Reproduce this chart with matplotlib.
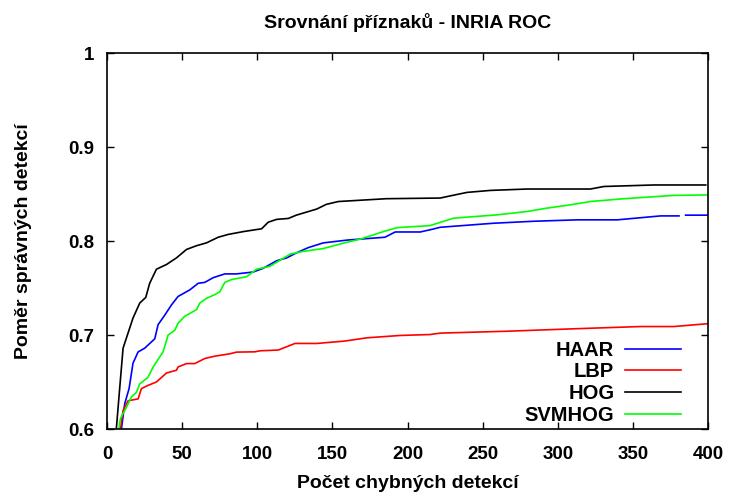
import numpy as np
import matplotlib
matplotlib.use("Agg")
import matplotlib.pyplot as plt

# (false detections -> detection rate)
haar_x = [9.6, 11.8, 14.7, 17.3, 20.7, 25.1, 31.8, 34, 38.4, 42.9, 47.3, 55.1, 60.7, 65.1,
          70.7, 78.4, 86.2, 97.3, 104, 112.9, 119.6, 126.2, 134, 144, 160, 185, 191.8,
          208.5, 217.3, 221.8, 257.3, 284, 313, 339.6, 368.5, 380.7, 383, 385.1, 400]
haar_y = [0.6, 0.627, 0.643, 0.670, 0.682, 0.686, 0.696, 0.711, 0.721, 0.732, 0.741, 0.748,
          0.755, 0.756, 0.761, 0.765, 0.765, 0.767, 0.771, 0.779, 0.782, 0.7875, 0.793,
          0.798, 0.801, 0.804, 0.8096, 0.8096, 0.8128, 0.8146, 0.8189, 0.821, 0.8225,
          0.8225, 0.8267, 0.8267, np.nan, 0.8275, 0.8275]

lbp_x = [8.9, 10.7, 14, 20.7, 22.9, 27.3, 32.9, 39.6, 46.2, 47.3, 52.9, 58.4, 65.1, 71.8,
         81.8, 86.2, 98.4, 101.8, 114, 125.1, 139.6, 158, 173, 195, 215, 221.8, 266, 310.7,
         355, 377.3, 399.6]
lbp_y = [0.6, 0.6196, 0.630, 0.632, 0.643, 0.6464, 0.650, 0.6596, 0.6625, 0.666, 0.6696,
         0.6696, 0.675, 0.6775, 0.680, 0.6818, 0.6821, 0.6832, 0.684, 0.691, 0.691, 0.6935,
         0.697, 0.6995, 0.7005, 0.702, 0.704, 0.7066, 0.709, 0.709, 0.712]

hog_x = [6.2, 8.9, 10.7, 14, 17.3, 21.8, 25.8, 28.4, 32.9, 39.6, 46.2, 52.9, 59.6, 66.2,
         74, 80.7, 90.7, 102.9, 107.3, 112.9, 120.7, 126, 139.6, 146, 154, 186, 221.8,
         228.5, 239.6, 255, 279.6, 321.8, 330.7, 364, 398.5]
hog_y = [0.6, 0.652, 0.686, 0.702, 0.718, 0.734, 0.740, 0.755, 0.770, 0.775, 0.782, 0.791,
         0.795, 0.798, 0.804, 0.807, 0.810, 0.813, 0.820, 0.823, 0.824, 0.8275, 0.834,
         0.839, 0.842, 0.845, 0.8457, 0.848, 0.8517, 0.8538, 0.8553, 0.8553, 0.858,
         0.8596, 0.8596]

svmhog_x = [8, 8.9, 12.9, 16.2, 19.6, 21.8, 27.3, 30.7, 37.3, 40.7, 45.1, 47.3, 51.8, 59.6,
            61.8, 66.2, 71.8, 75.1, 78.4, 82.9, 92.9, 99.6, 108.4, 121.8, 130.7, 144, 158,
            168.5, 184, 193, 215, 230.7, 259.6, 279.6, 293, 308.5, 321.8, 344, 377.3, 399]
svmhog_y = [0.6, 0.611, 0.623, 0.634, 0.639, 0.648, 0.655, 0.666, 0.682, 0.700, 0.705,
            0.7125, 0.720, 0.727, 0.734, 0.739, 0.743, 0.746, 0.756, 0.759, 0.762, 0.770,
            0.773, 0.786, 0.789, 0.792, 0.798, 0.802, 0.810, 0.8142, 0.8164, 0.8243,
            0.8278, 0.8314, 0.835, 0.8385, 0.842, 0.845, 0.8485, 0.849]

plt.rcParams['font.family'] = ['Liberation Sans', 'DejaVu Sans']
plt.rcParams['font.weight'] = 'bold'

fig = plt.figure(figsize=(7.31, 4.92), dpi=100)
ax = fig.add_axes([107 / 731, 1 - 429 / 492, 601 / 731, 376 / 492])

ax.plot(haar_x, haar_y, color="#0000ff", lw=1.2, label="HAAR")
ax.plot(lbp_x, lbp_y, color="#ff0000", lw=1.2, label="LBP")
ax.plot(hog_x, hog_y, color="black", lw=1.2, label="HOG")
ax.plot(svmhog_x, svmhog_y, color="#00ff00", lw=1.2, label="SVMHOG")

ax.set_xlim(0, 400)
ax.set_ylim(0.6, 1)
ax.set_xticks(range(0, 401, 50))
ax.set_yticks([0.6, 0.7, 0.8, 0.9, 1.0])
ax.set_yticklabels(["0.6", "0.7", "0.8", "0.9", "1"])
ax.tick_params(direction="in", top=True, right=True, length=5, width=1, labelsize=13.5)
ax.tick_params(axis="x", pad=12)
ax.tick_params(axis="y", pad=9)
for s in ax.spines.values():
    s.set_linewidth(1.2)

ax.set_title("Srovnání příznaků - INRIA ROC", fontsize=14, fontweight="bold", pad=18)
ax.set_xlabel("Počet chybných detekcí", fontsize=14, fontweight="bold", labelpad=9)
ax.set_ylabel("Poměr správných detekcí", fontsize=14, fontweight="bold", labelpad=26)

leg = ax.legend(loc="lower right", frameon=False, markerfirst=False, fontsize=14.5,
                handlelength=2.75, handletextpad=0.55, labelspacing=0.13,
                borderaxespad=0.0, bbox_to_anchor=(0.968, -0.01))
for t in leg.get_texts():
    t.set_ha("right")

fig.savefig("out.png", dpi=100)
